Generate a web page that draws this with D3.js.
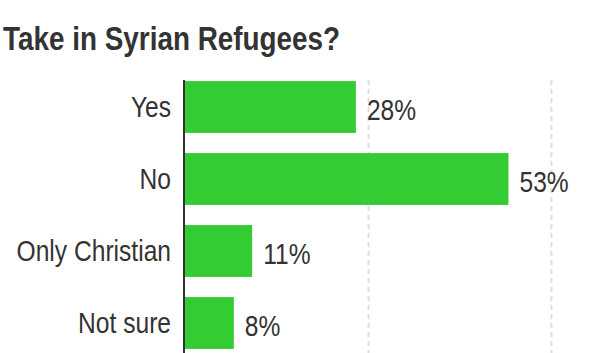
<!DOCTYPE html>
<html lang="en">
<head>
  <meta charset="UTF-8">
  <title>Take in Syrian Refugees?</title>
  <script src="https://cdnjs.cloudflare.com/ajax/libs/d3/7.8.5/d3.min.js"></script>
  <style>
    body { margin: 0; background: #fff; }
    text { font-family: "Liberation Sans", Arial, sans-serif; fill: #333; }
  </style>
</head>
<body>
  <svg width="600" height="353"></svg>
<script>
  const categories = ["Yes", "No", "Only Christian", "Not sure"];
  const values = [28, 53, 11, 8];
  const gridTicks = [30, 60];

  const svg = d3.select("svg");
  const width = +svg.attr("width");
  const height = +svg.attr("height");
  const margin = { left: 185, top: 80, right: 0, bottom: 0 };
  const narrow = "scale(0.82,1)"; // fake a condensed face

  // title
  svg.append("text")
    .attr("transform", "translate(3,50) " + narrow)
    .attr("font-size", "34px")
    .attr("font-weight", "bold")
    .text("Take in Syrian Refugees?");

  const xScale = d3.scaleLinear()
    .domain([0, 68])
    .range([margin.left, width]);

  const yScale = d3.scaleBand()
    .domain(categories)
    .range([71, 359])
    .paddingInner(0.28)
    .paddingOuter(0.14);

  // dashed grid
  svg.append("g")
    .selectAll("line")
    .data(gridTicks)
    .enter()
    .append("line")
    .attr("x1", d => Math.round(xScale(d)) + 0.5)
    .attr("x2", d => Math.round(xScale(d)) + 0.5)
    .attr("y1", margin.top)
    .attr("y2", height)
    .attr("stroke", "#ddd")
    .attr("stroke-width", 2)
    .attr("stroke-dasharray", "5,4");

  // bars
  const rows = categories.map((c, i) => ({ cat: c, val: values[i] }));
  svg.append("g")
    .selectAll("rect")
    .data(rows)
    .enter()
    .append("rect")
    .attr("x", xScale(0))
    .attr("y", d => yScale(d.cat))
    .attr("width", d => xScale(d.val) - xScale(0))
    .attr("height", yScale.bandwidth())
    .attr("fill", "#33cc33");

  // value labels
  svg.append("g")
    .selectAll("text")
    .data(rows)
    .enter()
    .append("text")
    .attr("transform", d => "translate(" + (xScale(d.val) + 11) + "," +
      (yScale(d.cat) + yScale.bandwidth() / 2 + 12.5) + ") " + narrow)
    .attr("font-size", "30px")
    .text(d => d.val + "%");

  // category axis
  const yAxis = svg.append("g")
    .attr("transform", "translate(171,0)")
    .call(d3.axisLeft(yScale).tickSize(0).tickPadding(0));
  yAxis.select(".domain").remove();
  yAxis.attr("font-family", null).attr("font-size", null);
  yAxis.selectAll("text")
    .attr("font-size", "30px")
    .attr("dy", "0.32em")
    .attr("fill", "#333")
    .attr("transform", narrow);

  svg.append("line")
    .attr("x1", 184)
    .attr("x2", 184)
    .attr("y1", margin.top)
    .attr("y2", height)
    .attr("stroke", "#333")
    .attr("stroke-width", 2);
</script>
</body>
</html>
